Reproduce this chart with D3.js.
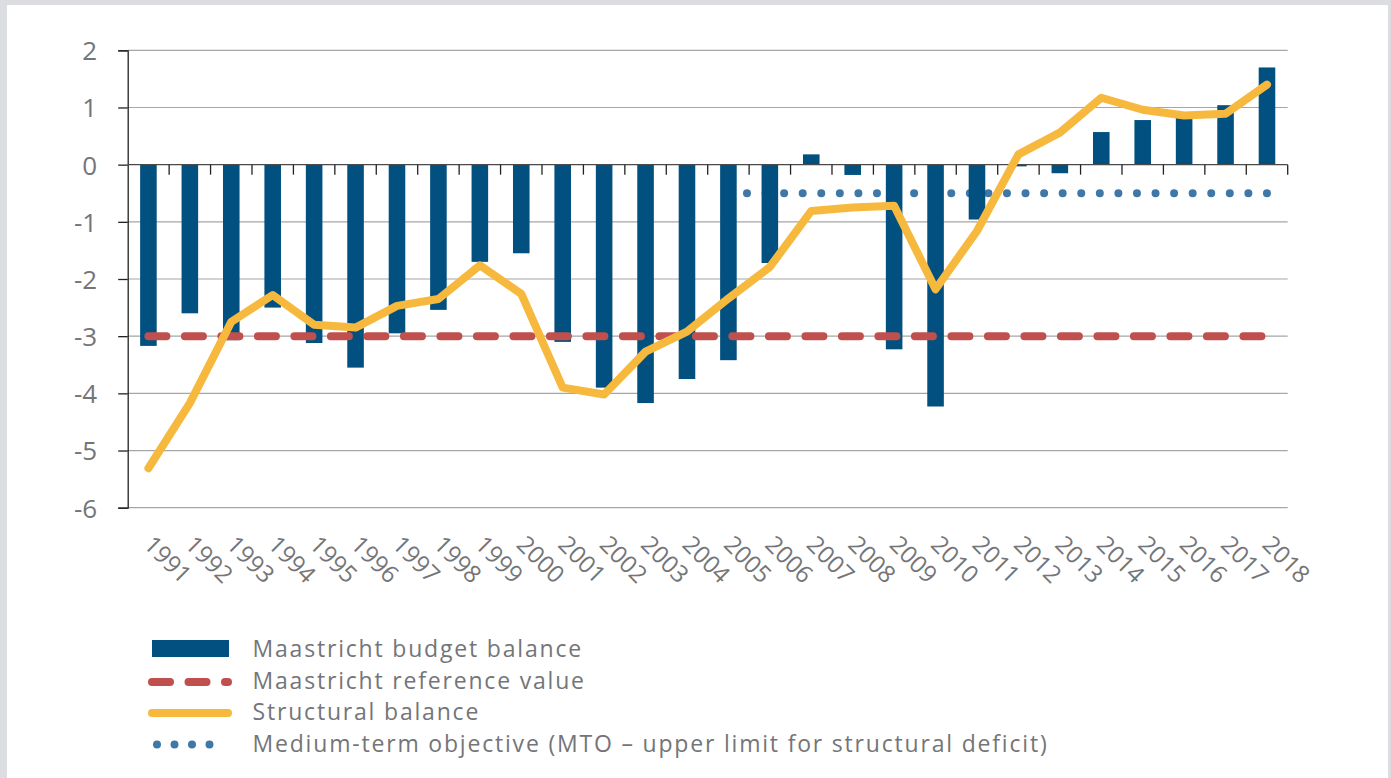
<!DOCTYPE html>
<html>
<head>
<meta charset="utf-8">
<script src="https://cdn.jsdelivr.net/npm/d3@7"></script>
<style>
  body { margin: 0; background: #dcdde0; }
  svg { display: block; }
  text { font-family: "Open Sans", Lato, sans-serif; fill: #747578; }
</style>
</head>
<body>
<svg id="chart" width="1391" height="778"></svg>
<script>
// ---------------- data ----------------
const years = [1991,1992,1993,1994,1995,1996,1997,1998,1999,2000,2001,2002,2003,2004,
               2005,2006,2007,2008,2009,2010,2011,2012,2013,2014,2015,2016,2017,2018];
const budgetBalance = [-3.17,-2.60,-3.07,-2.50,-3.12,-3.55,-2.95,-2.54,-1.70,-1.55,-3.10,-3.90,
                       -4.17,-3.75,-3.42,-1.72,0.18,-0.18,-3.23,-4.23,-0.96,-0.03,-0.15,0.57,
                       0.78,0.88,1.04,1.70];
const structuralBalance = [-5.31,-4.17,-2.75,-2.28,-2.80,-2.85,-2.47,-2.35,-1.76,-2.26,-3.90,-4.02,
                           -3.27,-2.92,-2.34,-1.79,-0.81,-0.75,-0.72,-2.18,-1.16,0.18,0.56,1.17,
                           0.96,0.86,0.89,1.40];
const referenceValue = years.map(() => -3);
const mtoYears = years.filter(y => y >= 2005);
const mtoValue = mtoYears.map(() => -0.5);
const yTicks = [2,1,0,-1,-2,-3,-4,-5,-6];
const legendLabels = [
  "Maastricht budget balance",
  "Maastricht reference value",
  "Structural balance",
  "Medium-term objective (MTO \u2013 upper limit for structural deficit)"
];

// ---------------- styles ----------------
const C = { bar: "#01507f", ref: "#c0504d", struct: "#f6b93e", mto: "#3f78a6",
            grid: "#a6a6a6", axis: "#222", zero: "#4a4a4a", text: "#76777a" };

const svg = d3.select("#chart");
svg.append("rect").attr("x", 7).attr("y", 5).attr("width", 1381).attr("height", 773).attr("fill", "#fff");

const x0 = 127.7, x1 = 1287.7;
const xCat = d3.scaleBand().domain(years).range([x0, x1]).padding(0);
const xBar = d3.scaleBand().domain(years).range([x0, x1]).paddingInner(0.6).paddingOuter(0.3);
const cx = d => xCat(d) + xCat.bandwidth() / 2;
const y = d3.scaleLinear().domain([-6, 2]).range([507.7, 50.3]);

// gridlines
svg.append("g").selectAll("line").data(yTicks.filter(t => t !== 0)).join("line")
  .attr("x1", x0).attr("x2", x1).attr("y1", d => y(d)).attr("y2", d => y(d))
  .attr("stroke", C.grid).attr("stroke-width", 1.2);

// y axis
const yAxis = d3.axisLeft(y).tickValues(yTicks).tickSize(9.5).tickPadding(21)
  .tickFormat(d => String(d).replace("\u2212", "-"));
const gy = svg.append("g").attr("transform", `translate(${x0},0)`).call(yAxis);
gy.select(".domain").attr("stroke", C.axis).attr("stroke-width", 1.3);
gy.selectAll(".tick line").attr("stroke", C.axis).attr("stroke-width", 1.3);
gy.selectAll(".tick text").attr("font-size", 26).attr("fill", C.text)
  .attr("font-family", "'Open Sans', sans-serif").attr("dy", "0.36em");

// MTO dots (under bars)
const lineGen = d3.line().x(d => cx(d[0])).y(d => y(d[1]));
svg.append("path").datum(mtoYears.map((yr, i) => [yr, mtoValue[i]]))
  .attr("d", lineGen).attr("fill", "none").attr("stroke", C.mto)
  .attr("stroke-width", 8).attr("stroke-linecap", "round").attr("stroke-dasharray", "0 18.57");

// bars
svg.append("g").selectAll("rect").data(years.map((yr, i) => [yr, budgetBalance[i]])).join("rect")
  .attr("x", d => xBar(d[0])).attr("width", xBar.bandwidth())
  .attr("y", d => y(Math.max(0, d[1]))).attr("height", d => Math.abs(y(d[1]) - y(0)))
  .attr("fill", C.bar);

// zero axis line with category ticks
svg.append("line").attr("x1", x0).attr("x2", x1).attr("y1", y(0)).attr("y2", y(0))
  .attr("stroke", C.zero).attr("stroke-width", 1.3);
svg.append("g").selectAll("line").data(years).join("line")
  .attr("x1", d => xCat(d) + xCat.bandwidth()).attr("x2", d => xCat(d) + xCat.bandwidth())
  .attr("y1", y(0)).attr("y2", y(0) + 10)
  .attr("stroke", C.axis).attr("stroke-width", 1.3);

// reference value dashed line
svg.append("path").datum(years.map((yr, i) => [yr, referenceValue[i]]))
  .attr("d", lineGen).attr("fill", "none").attr("stroke", C.ref)
  .attr("stroke-width", 8).attr("stroke-linecap", "round").attr("stroke-dasharray", "18 18.5");

// structural balance
svg.append("path").datum(years.map((yr, i) => [yr, structuralBalance[i]]))
  .attr("d", lineGen).attr("fill", "none").attr("stroke", C.struct)
  .attr("stroke-width", 8).attr("stroke-linecap", "round").attr("stroke-linejoin", "round");

// x labels
svg.append("g").selectAll("text").data(years).join("text")
  .attr("transform", d => `translate(${cx(d) - 6},546) rotate(45)`)
  .attr("font-size", 24).attr("fill", C.text).text(d => d);

// legend
const lg = svg.append("g");
const baseY = 657, step = 31.5, legendFs = 23;
const texts = legendLabels.map((lab, i) =>
  lg.append("text").attr("x", 252.5).attr("y", baseY + i * step).attr("font-size", legendFs)
    .attr("fill", C.text).text(lab));
// widen letter spacing slightly so the longest entry spans like the original (~796px)
const longLab = legendLabels[3];
const longW = texts[3].node().getComputedTextLength();
const ls = Math.max(0, Math.min(3, (796 - longW) / longLab.length));
texts.forEach(t => t.attr("letter-spacing", ls));

lg.append("rect").attr("x", 152).attr("y", 640).attr("width", 77).attr("height", 17).attr("fill", C.bar);
const lLine = (yy, col, dash) => {
  const p = lg.append("line").attr("x1", 152).attr("x2", 228).attr("y1", yy).attr("y2", yy)
    .attr("stroke", col).attr("stroke-width", 8).attr("stroke-linecap", "round");
  if (dash) p.attr("stroke-dasharray", dash);
};
lLine(baseY + step - 6.5, C.ref, "18 18.5");
lLine(baseY + 2 * step - 7, C.struct, null);
lg.append("line").attr("x1", 157).attr("x2", 227).attr("y1", baseY + 3 * step - 7).attr("y2", baseY + 3 * step - 7)
  .attr("stroke", C.mto).attr("stroke-width", 8).attr("stroke-linecap", "round").attr("stroke-dasharray", "0 17.5");
</script>
</body>
</html>
